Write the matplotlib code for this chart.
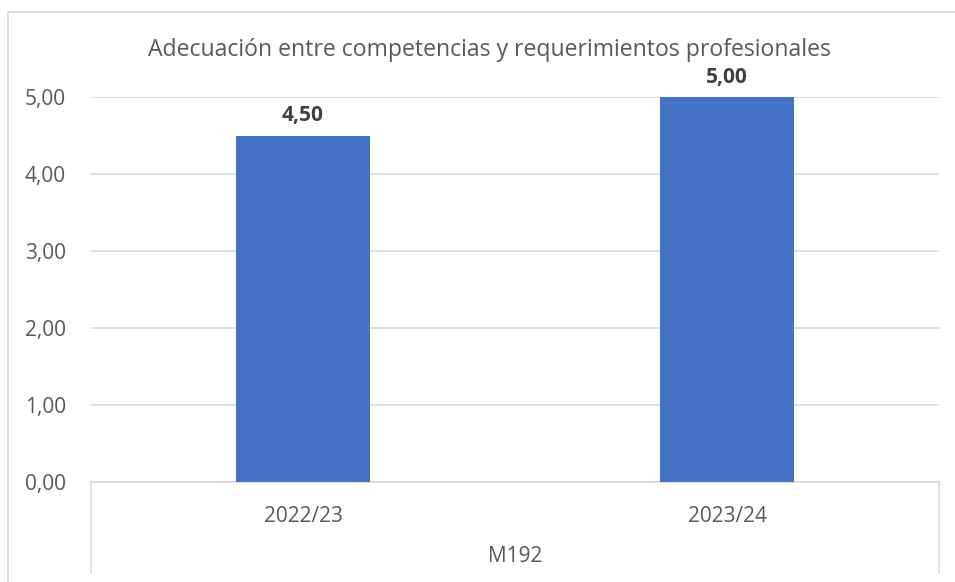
import matplotlib.pyplot as plt
from matplotlib.patches import Rectangle

categories = ["2022/23", "2023/24"]
values = [4.50, 5.00]
group_label = "M192"
title = "Adecuación entre competencias y requerimientos profesionales"
yticks = [0, 1, 2, 3, 4, 5]

plt.rcParams['font.family'] = ['Open Sans', 'DejaVu Sans']

W, H = 955, 582
fig = plt.figure(figsize=(W / 100, H / 100), dpi=100)

# chart border (Excel style)
fig.patches.append(Rectangle((8 / W, -0.01), 1.0, (582 - 12) / H + 0.01, transform=fig.transFigure,
                             fill=False, edgecolor='#d9d9d9', linewidth=1.2))

left, right, top, bottom = 91, 939, 97, 482
ax = fig.add_axes([left / W, 1 - bottom / H, (right - left) / W, (bottom - top) / H])

x = list(range(len(categories)))
ax.bar(x, values, width=0.314, color='#4472C4', zorder=3)
ax.set_xlim(-0.5, len(categories) - 0.5)
ax.set_ylim(0, 5)

ax.set_yticks(yticks)
ax.set_yticklabels([f"{v:.2f}".replace('.', ',') for v in yticks], fontsize=15, color='#595959')
ax.tick_params(axis='y', length=0, pad=18)
ax.set_xticks([])
ax.grid(axis='y', color='#d9d9d9', linewidth=1.2, zorder=0)
for s in ['top', 'right', 'left']:
    ax.spines[s].set_visible(False)
ax.spines['bottom'].set_color('#d9d9d9')
ax.spines['bottom'].set_linewidth(1.2)

for xi, v in zip(x, values):
    ax.text(xi, v + 0.12, f"{v:.2f}".replace('.', ','), ha='center', va='bottom',
            fontsize=15, fontweight='bold', color='#404040', clip_on=False)

# multi-level category axis
trans = ax.get_xaxis_transform()
for xi, c in zip(x, categories):
    ax.text(xi, -(517 - bottom) / (bottom - top), c, transform=trans, ha='center', va='center',
            fontsize=15, color='#595959')
ax.text(0.5, -(557 - bottom) / (bottom - top), group_label, transform=ax.transAxes,
        ha='center', va='center', fontsize=15, color='#595959')
for xe in [-0.5, len(categories) - 0.5]:
    ax.plot([xe, xe], [0, -(573 - bottom) / (bottom - top)], transform=trans,
            color='#d9d9d9', linewidth=1.2, clip_on=False)

fig.text(489 / W, 1 - 50 / H, title, ha='center', va='center', fontsize=16.6, color='#595959')

fig.savefig('out.png', dpi=100)
